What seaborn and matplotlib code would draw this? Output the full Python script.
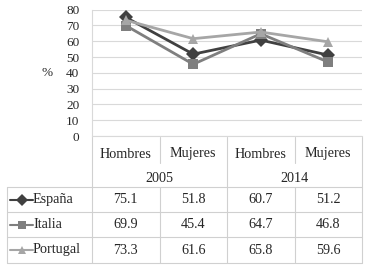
import matplotlib
matplotlib.use('Agg')
import matplotlib.pyplot as plt
import matplotlib.transforms as mtransforms
import seaborn as sns
import pandas as pd

# Datos
categorias = ['Hombres', 'Mujeres', 'Hombres', 'Mujeres']
anios = ['2005', '2014']
paises = ['España', 'Italia', 'Portugal']
espana = [75.1, 51.8, 60.7, 51.2]
italia = [69.9, 45.4, 64.7, 46.8]
portugal = [73.3, 61.6, 65.8, 59.6]
yticks = [0, 10, 20, 30, 40, 50, 60, 70, 80]

valores = {'España': espana, 'Italia': italia, 'Portugal': portugal}
colores = {'España': '#404040', 'Italia': '#7f7f7f', 'Portugal': '#a6a6a6'}
marcadores = {'España': 'D', 'Italia': 's', 'Portugal': '^'}

df = pd.DataFrame([
    {'pos': i, 'valor': v, 'pais': p}
    for p in paises for i, v in enumerate(valores[p])
])

sns.set_style('white')
plt.rcParams['font.family'] = ['Liberation Serif', 'DejaVu Serif']

W, H = 369, 275
fig = plt.figure(figsize=(W / 100, H / 100), dpi=100)

# capa para la tabla en pixeles
over = fig.add_axes([0, 0, 1, 1])
over.set_xlim(0, W)
over.set_ylim(H, 0)
over.axis('off')

ax = fig.add_axes([92 / W, 1 - 136 / H, (362 - 92) / W, (136 - 9.6) / H])
sns.lineplot(data=df, x='pos', y='valor', hue='pais', style='pais',
             palette=colores, markers=marcadores, dashes=False,
             linewidth=2, markersize=7, markeredgewidth=0, ax=ax, legend=False)
ax.set_xlim(-0.5, 3.5)
ax.set_ylim(0, 80)
ax.set_yticks(yticks)
ax.set_yticklabels([str(t) for t in yticks], fontsize=9.5)
ax.tick_params(axis='y', length=0, pad=9)
ax.set_xticks([])
ax.set_xlabel('')
ax.set_ylabel('%', rotation=0, fontsize=9.5, labelpad=14, va='center')
ax.grid(True, axis='y', color='#d9d9d9', linewidth=0.8)
for s in ['top', 'right']:
    ax.spines[s].set_visible(False)
ax.spines['left'].set_color('#d9d9d9')
ax.spines['bottom'].set_color('#d9d9d9')

# Tabla de datos
tr = mtransforms.blended_transform_factory(ax.transData, over.transData)
lc = '#d0d0d0'
y_top, y_hdr, y_dat = 137, 163, 187
filas_y = [187, 212, 237, 263]

def vline(x, y0, y1):
    over.plot([x, x], [y0, y1], color=lc, lw=0.8, transform=tr)

vline(-0.5, y_top, filas_y[-1])
vline(1.5, y_top, filas_y[-1])
vline(3.5, y_top, filas_y[-1])
for x in [0.5, 2.5]:
    vline(x, y_top, y_hdr)
    vline(x, y_dat, filas_y[-1])
for y in filas_y:
    over.plot([7, 362], [y, y], color=lc, lw=0.8)
over.plot([7, 7], [filas_y[0], filas_y[-1]], color=lc, lw=0.8)

for i, c in enumerate(categorias):
    over.text(i, 154, c, transform=tr, ha='center', va='center', fontsize=10.2)
for j, a in enumerate(anios):
    over.text(2 * j + 0.5, 179, a, transform=tr, ha='center', va='center', fontsize=10.2)

for k, p in enumerate(paises):
    yc = (filas_y[k] + filas_y[k + 1]) / 2
    over.plot([10, 33], [yc, yc], color=colores[p], lw=1.5)
    over.plot([21.5], [yc], marker=marcadores[p], color=colores[p], markersize=6, markeredgewidth=0)
    over.text(33, yc, p, ha='left', va='center', fontsize=10.2)
    for i, v in enumerate(valores[p]):
        over.text(i, yc, f'{v:.1f}', transform=tr, ha='center', va='center', fontsize=10.2)

fig.savefig('out.png', dpi=100)
